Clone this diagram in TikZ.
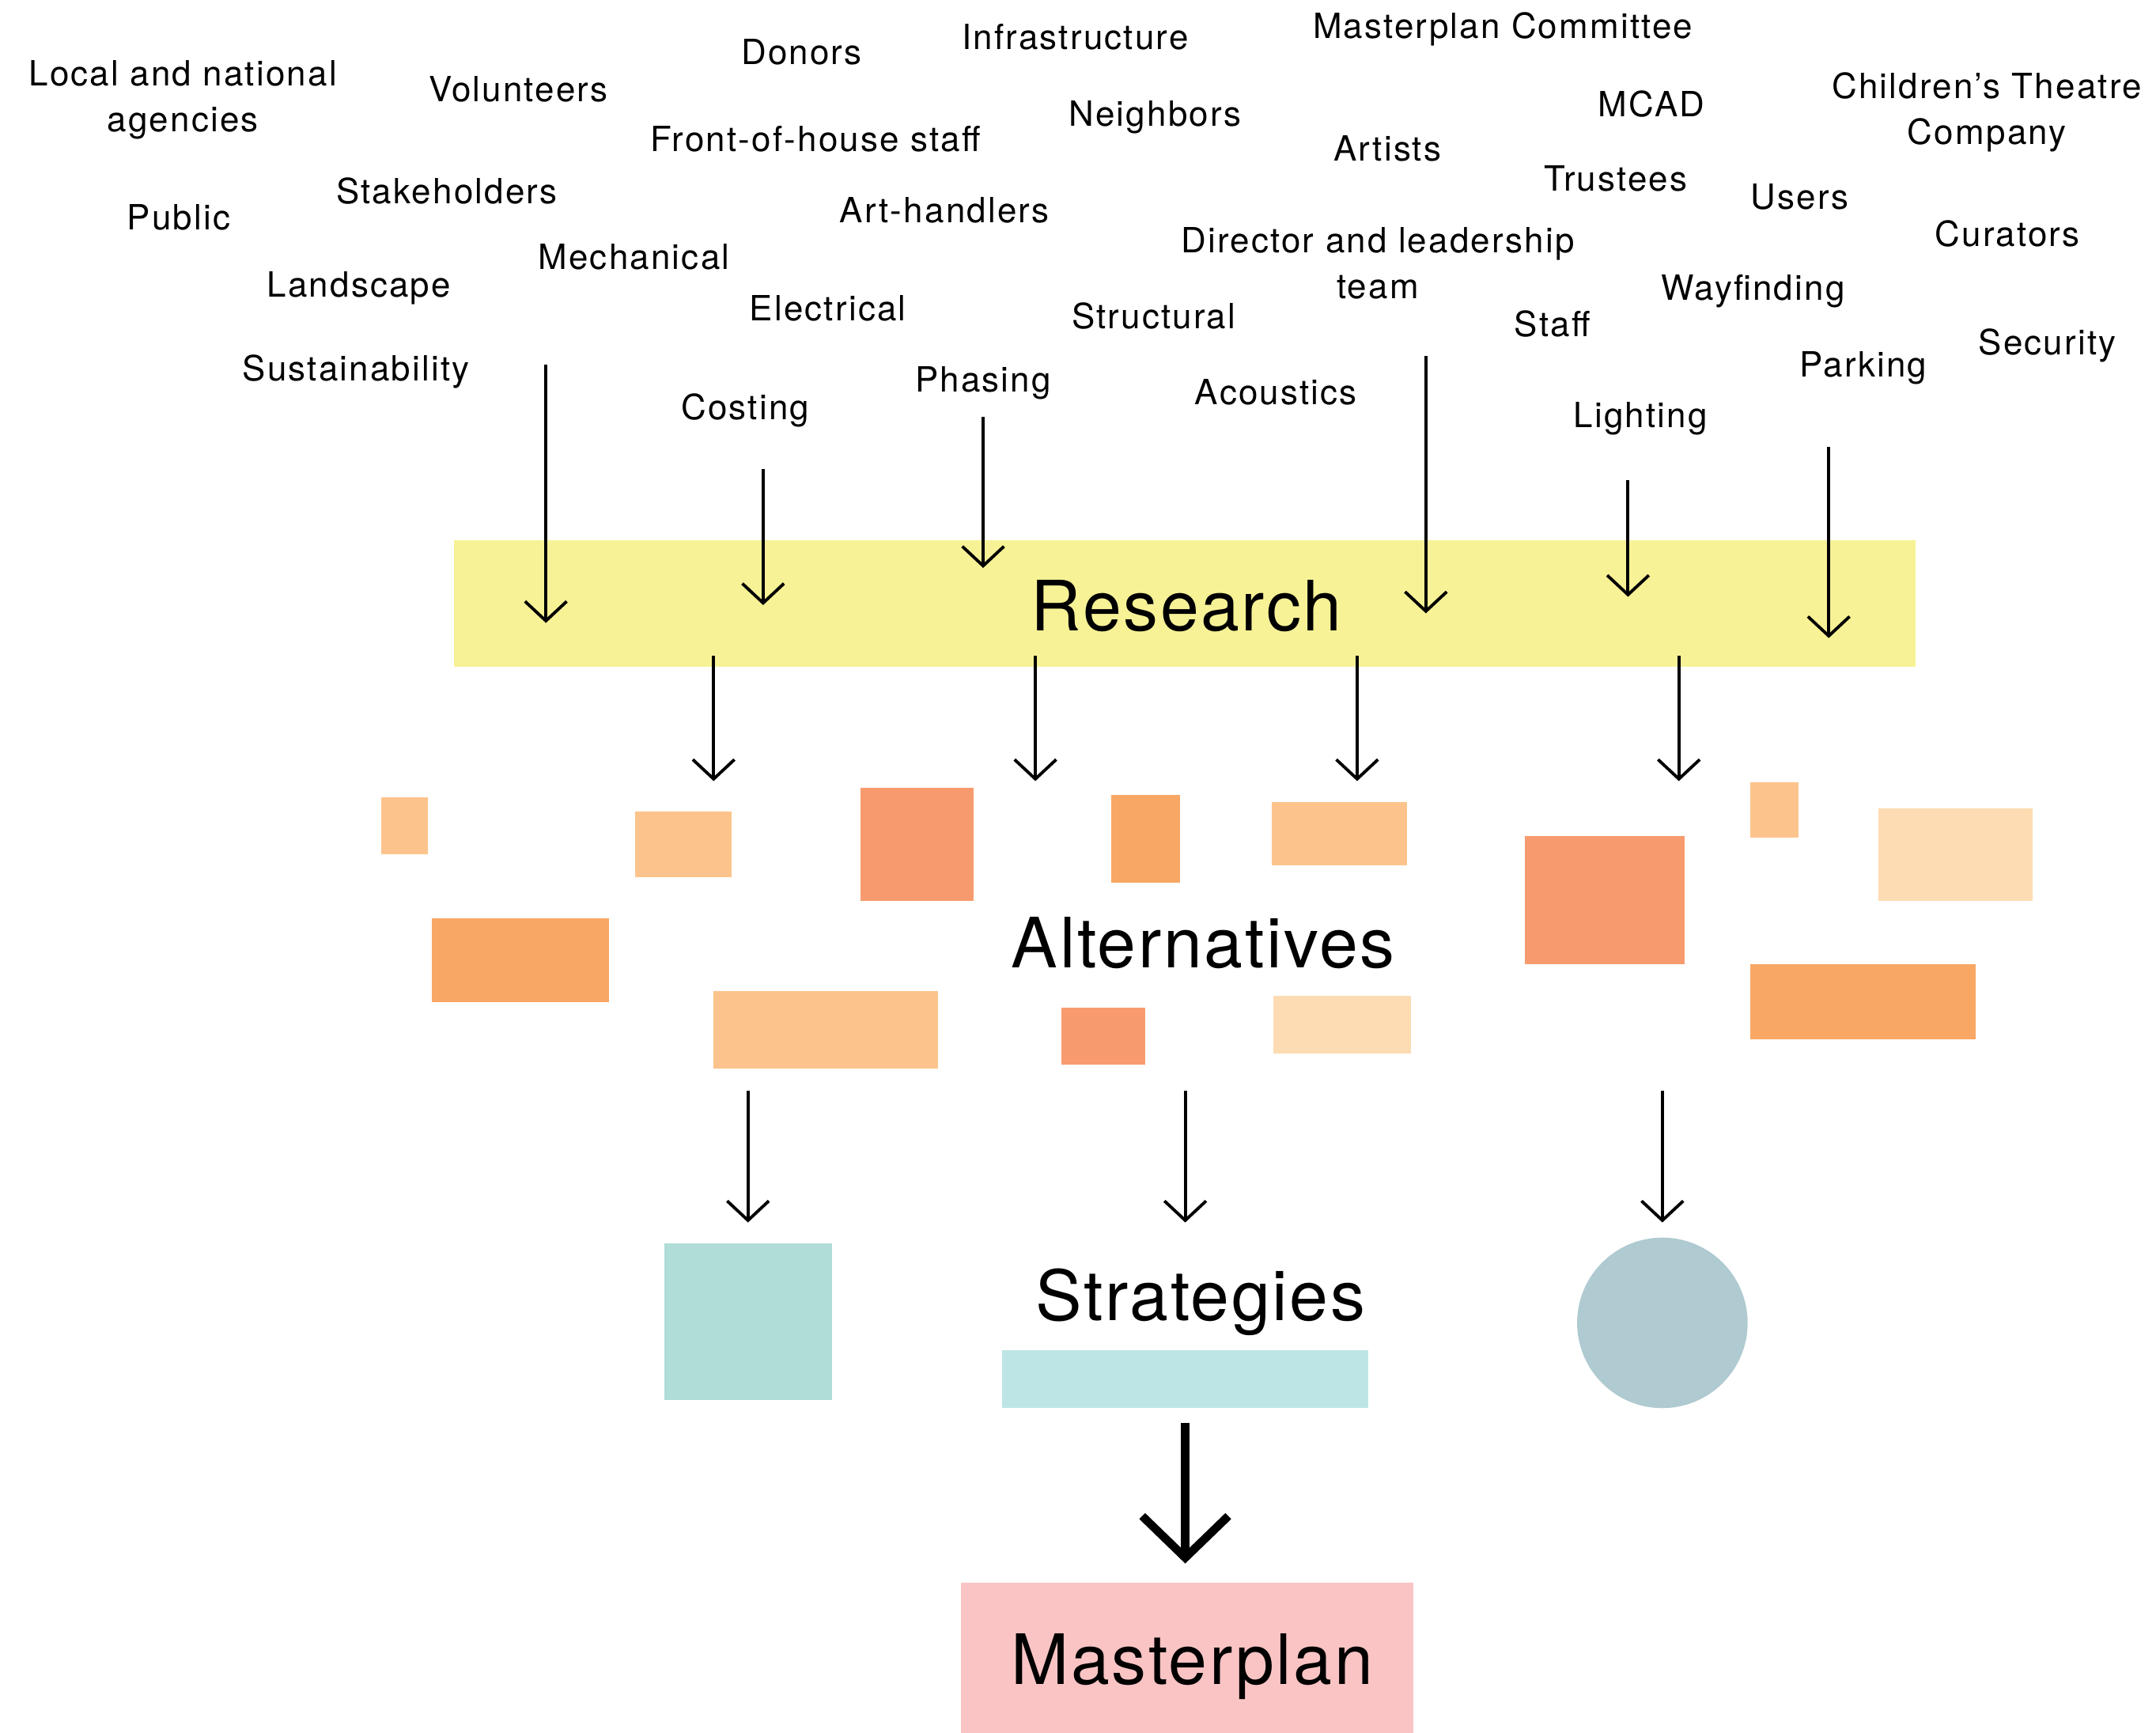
\documentclass[tikz,border=0pt]{standalone}
\usepackage{fontspec}
\setmainfont{TeX Gyre Heros}
\newfontfamily\labelfont[LetterSpace=5]{TeX Gyre Heros}
\newfontfamily\stagefont[LetterSpace=3]{TeX Gyre Heros}
\usetikzlibrary{arrows.meta}

\definecolor{researchyellow}{HTML}{F7F296}
\definecolor{altlight}{HTML}{FCC48C}
\definecolor{altsalmon}{HTML}{F79B6E}
\definecolor{altorange}{HTML}{F9A764}
\definecolor{altpeach}{HTML}{FEDCB3}
\definecolor{stratteal}{HTML}{B0DDD7}
\definecolor{strataqua}{HTML}{BEE5E6}
\definecolor{stratgrey}{HTML}{AFCAD0}
\definecolor{planpink}{HTML}{FAC4C4}

\tikzset{
  party/.style={font=\labelfont\fontsize{12.5}{16.5}\selectfont, align=center, anchor=base, inner sep=0pt},
  stage/.style={font=\stagefont\fontsize{25}{30}\selectfont, anchor=base, inner sep=0pt},
  feed/.style={line width=1.1pt, -{Straight Barb[length=7pt,width=15pt]}},
  bigfeed/.style={line width=3pt, -{Straight Barb[length=15pt,width=31pt]}},
  band/.style={inner sep=0pt, outer sep=0pt}
}

\begin{document}
\begin{tikzpicture}[x=0.0174cm, y=-0.0174cm]
\useasboundingbox (0,0) rectangle (1568,1260);

% bands
\node[band, fill=researchyellow, minimum width=1063*0.0174cm, minimum height=92*0.0174cm] (research) at (861.5,439) {};
\node[band, fill=planpink, minimum width=329*0.0174cm, minimum height=109*0.0174cm] (masterplan) at (863.5,1205.5) {};

% alternatives
\fill[altlight]  (277,580) rectangle (311,621);
\fill[altlight]  (462,590) rectangle (532,638);
\fill[altsalmon] (626,573) rectangle (708,655);
\fill[altorange] (808,578) rectangle (858,642);
\fill[altlight]  (925,583) rectangle (1023,629);
\fill[altsalmon] (1109,608) rectangle (1225,701);
\fill[altlight]  (1273,569) rectangle (1308,609);
\fill[altpeach]  (1366,588) rectangle (1478,655);
\fill[altorange] (314,668) rectangle (443,729);
\fill[altlight]  (519,721) rectangle (682,777);
\fill[altsalmon] (772,733) rectangle (833,774);
\fill[altpeach]  (926,724) rectangle (1026,766);
\fill[altorange] (1273,701) rectangle (1437,756);

% strategies
\fill[stratteal] (483,904) rectangle (605,1018);
\fill[strataqua] (729,982) rectangle (995,1024);
\fill[stratgrey] (1209,962) circle [radius=62];

% stage labels
\node[stage] (researchlbl) at (863,459) {Research};
\node[stage] (altlbl) at (875,704) {Alternatives};
\node[stage] (stratlbl) at (873,960) {Strategies};
\node[stage] (planlbl) at (867,1225) {Masterplan};

% parties
\node[party] (agencies) at (133,96) {Local and national\\agencies};
\node[party] (volunteers) at (377,74) {Volunteers};
\node[party] (donors) at (583,47) {Donors};
\node[party] (infra) at (782,36) {Infrastructure};
\node[party] (committee) at (1093,28) {Masterplan Committee};
\node[party] (mcad) at (1201,85) {MCAD};
\node[party] (theatre) at (1445,105) {Children’s Theatre\\Company};
\node[party] (neighbors) at (840,92) {Neighbors};
\node[party] (foh) at (593,110) {Front-of-house staff};
\node[party] (artists) at (1009,117) {Artists};
\node[party] (trustees) at (1175,139) {Trustees};
\node[party] (users) at (1309,152) {Users};
\node[party] (public) at (130,167) {Public};
\node[party] (stake) at (325,148) {Stakeholders};
\node[party] (handlers) at (687,162) {Art-handlers};
\node[party] (curators) at (1460,179) {Curators};
\node[party] (director) at (1002,217) {Director and leadership\\team};
\node[party] (mech) at (461,196) {Mechanical};
\node[party] (landscape) at (261,216) {Landscape};
\node[party] (wayfinding) at (1275,218) {Wayfinding};
\node[party] (elec) at (602,233) {Electrical};
\node[party] (struct) at (839,239) {Structural};
\node[party] (staff) at (1129,245) {Staff};
\node[party] (security) at (1489,258) {Security};
\node[party] (sustain) at (259,277) {Sustainability};
\node[party] (parking) at (1355,274) {Parking};
\node[party] (costing) at (542,305) {Costing};
\node[party] (phasing) at (715,285) {Phasing};
\node[party] (acoustics) at (928,294) {Acoustics};
\node[party] (lighting) at (1193,311) {Lighting};

% into research
\foreach \i/\x/\ya/\yb in {1/397/265/453, 2/555/341/440, 3/715/303/413, 4/1037/259/446, 5/1184/349/434, 6/1330/325/464}{
  \coordinate (in\i a) at (\x,\ya);
  \coordinate (in\i b) at (\x,\yb);
  \draw[feed] (in\i a) -- (in\i b);
}

% research to alternatives
\foreach \i/\x in {1/519, 2/753, 3/987, 4/1221}{
  \coordinate (out\i a) at (\x,477);
  \coordinate (out\i b) at (\x,568);
  \draw[feed] (out\i a) -- (out\i b);
}

% alternatives to strategies
\foreach \i/\x in {1/544, 2/862, 3/1209}{
  \coordinate (alt\i a) at (\x,793);
  \coordinate (alt\i b) at (\x,889);
  \draw[feed] (alt\i a) -- (alt\i b);
}

% strategies to masterplan
\coordinate (plana) at (862,1035);
\coordinate (planb) at (862,1137);
\draw[bigfeed] (plana) -- (planb);
\end{tikzpicture}
\end{document}
